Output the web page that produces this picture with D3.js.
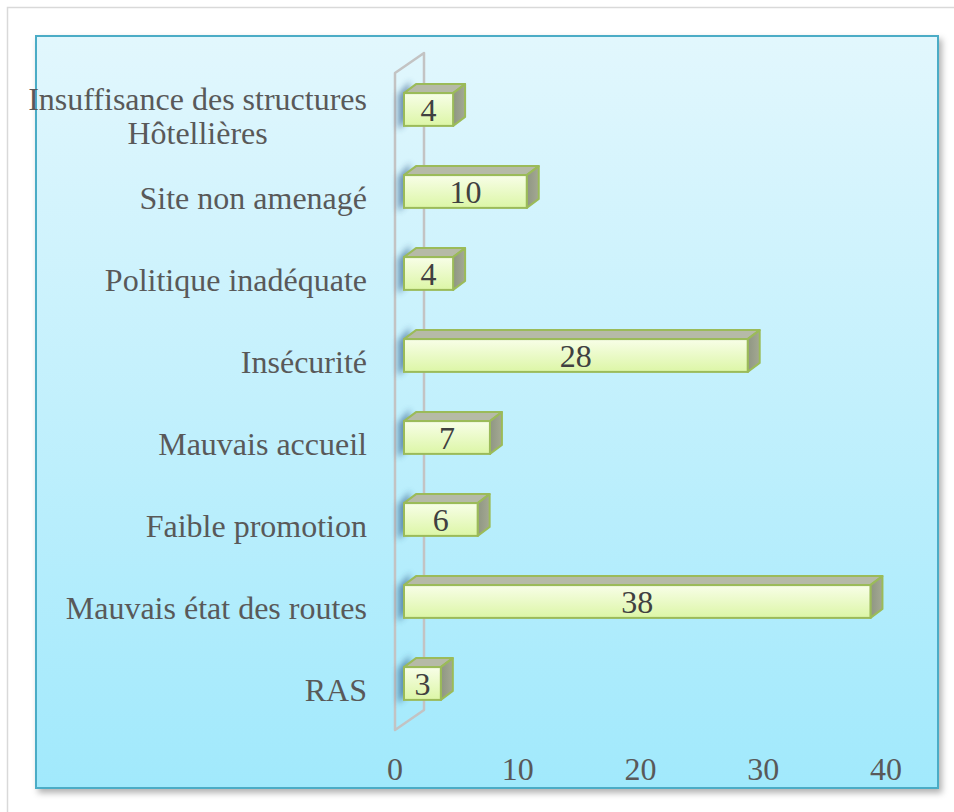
<!DOCTYPE html>
<html>
<head>
<meta charset="utf-8">
<script src="https://cdn.jsdelivr.net/npm/d3@7"></script>
<style>
  body { margin: 0; background: #fff; }
  svg { display: block; }
</style>
</head>
<body>
<div class="container"></div>
<script>
let categories = ['Insuffisance des structures|Hôtellières', 'Site non amenagé', 'Politique inadéquate',
    'Insécurité', 'Mauvais accueil', 'Faible promotion', 'Mauvais état des routes', 'RAS']
let values = [4, 10, 4, 28, 7, 6, 38, 3]
let ticks = [0, 10, 20, 30, 40]

let width = 954
let height = 812
let font = '"Liberation Serif", "Times New Roman", serif'
let fontSize = '32px'

// 3d offsets: wall depth and bar position inside the depth
let wall = { dx: 29, dy: -20 }
let barOff = { dx: 9, dy: -6.5 }
let barDepth = { dx: 12, dy: -9 }

let svg = d3.select('.container')
    .append('svg')
    .attr('width', width)
    .attr('height', height)

let defs = svg.append('defs')

let bg = defs.append('linearGradient').attr('id', 'bg')
    .attr('x1', 0).attr('y1', 0).attr('x2', 0).attr('y2', 1)
bg.append('stop').attr('offset', '0%').attr('stop-color', '#e2f7fd')
bg.append('stop').attr('offset', '100%').attr('stop-color', '#a1e9fc')

let face = defs.append('linearGradient').attr('id', 'face')
    .attr('x1', 0).attr('y1', 0).attr('x2', 0).attr('y2', 1)
face.append('stop').attr('offset', '0%').attr('stop-color', '#f8fee8')
face.append('stop').attr('offset', '100%').attr('stop-color', '#dcf6a6')

let side = defs.append('linearGradient').attr('id', 'side')
    .attr('x1', 0).attr('y1', 0).attr('x2', 1).attr('y2', 0)
side.append('stop').attr('offset', '0%').attr('stop-color', '#8f9683')
side.append('stop').attr('offset', '100%').attr('stop-color', '#a4a993')

let shadow = defs.append('filter').attr('id', 'boxShadow')
    .attr('x', '-5%').attr('y', '-5%').attr('width', '110%').attr('height', '110%')
shadow.append('feDropShadow').attr('dx', 3).attr('dy', 4).attr('stdDeviation', 3)
    .attr('flood-color', '#000').attr('flood-opacity', 0.3)

let blur = defs.append('filter').attr('id', 'blur')
    .attr('x', '-100%').attr('y', '-50%').attr('width', '300%').attr('height', '200%')
blur.append('feGaussianBlur').attr('stdDeviation', 3)

// outer frame
svg.append('rect')
    .attr('x', 7.5).attr('y', 7.5)
    .attr('width', 960).attr('height', 820)
    .attr('fill', '#fff')
    .attr('stroke', '#d9d9d9')
    .attr('stroke-width', 1.5)

// plot box
svg.append('rect')
    .attr('x', 36).attr('y', 36)
    .attr('width', 902).attr('height', 752)
    .attr('fill', 'url(#bg)')
    .attr('stroke', '#4bacc6')
    .attr('stroke-width', 2)
    .attr('filter', 'url(#boxShadow)')

let xScale = d3.scaleLinear()
    .domain([0, 40])
    .range([395, 886])

let yScale = d3.scaleBand()
    .domain(categories)
    .range([75, 731])
    .padding(0)

let barH = yScale.step() * 0.4
let x0 = xScale(0)
let yTop = yScale.range()[0] - 2
let yBot = yScale.range()[1] - 1

// side wall at x = 0
let wallG = svg.append('g')
    .attr('fill', 'none')
    .attr('stroke', '#c3c3c3')
    .attr('stroke-width', 2.5)
    .attr('stroke-linejoin', 'round')
wallG.append('path')
    .attr('d', `M${x0},${yBot} L${x0},${yTop} L${x0 + wall.dx},${yTop + wall.dy} L${x0 + wall.dx},${yBot + wall.dy} Z`)

// shadows of bars on the wall
svg.append('g')
    .selectAll('path')
    .data(categories)
    .enter()
    .append('path')
    .attr('d', d => {
        let x = x0 + barOff.dx
        let y = yScale(d) + yScale.step() / 2 + barOff.dy - barH / 2
        return `M${x - 6},${y + barH + 4} L${x - 6},${y + 2} L${x + 6},${y - 12} L${x + 6},${y + barH - 8} Z`
    })
    .attr('fill', '#2a5784')
    .attr('opacity', 0.6)
    .attr('filter', 'url(#blur)')

let bars = svg.append('g')
    .selectAll('g')
    .data(categories.map((c, i) => ({ cat: c, val: values[i] })))
    .enter()
    .append('g')

let fx = () => xScale(0) + barOff.dx
let fy = d => yScale(d.cat) + yScale.step() / 2 + barOff.dy - barH / 2
let fw = d => xScale(d.val) - xScale(0)

// top face
bars.append('path')
    .attr('d', d => {
        let x = fx(), y = fy(d), w = fw(d)
        return `M${x},${y} L${x + barDepth.dx},${y + barDepth.dy} L${x + w + barDepth.dx},${y + barDepth.dy} L${x + w},${y} Z`
    })
    .attr('fill', '#b6baa7')
    .attr('stroke', '#9bbb59')
    .attr('stroke-width', 2)
    .attr('stroke-linejoin', 'round')

// right face
bars.append('path')
    .attr('d', d => {
        let x = fx() + fw(d), y = fy(d)
        return `M${x},${y} L${x + barDepth.dx},${y + barDepth.dy} L${x + barDepth.dx},${y + barH + barDepth.dy} L${x},${y + barH} Z`
    })
    .attr('fill', 'url(#side)')
    .attr('stroke', '#9bbb59')
    .attr('stroke-width', 2)
    .attr('stroke-linejoin', 'round')

// front face
bars.append('rect')
    .attr('x', fx)
    .attr('y', fy)
    .attr('width', fw)
    .attr('height', barH)
    .attr('fill', 'url(#face)')
    .attr('stroke', '#9bbb59')
    .attr('stroke-width', 2)

// value labels
bars.append('text')
    .attr('x', d => fx() + fw(d) / 2)
    .attr('y', d => fy(d) + barH / 2)
    .attr('dy', '0.35em')
    .attr('text-anchor', 'middle')
    .style('font-family', font)
    .style('font-size', fontSize)
    .attr('fill', '#404040')
    .text(d => d.val)

// category labels
let catG = svg.append('g')
    .selectAll('text')
    .data(categories)
    .enter()
    .append('text')
    .style('font-family', font)
    .style('font-size', fontSize)
    .attr('fill', '#595959')
    .attr('y', d => yScale(d) + yScale.step() / 2)

catG.each(function (d) {
    let lines = d.split('|')
    let t = d3.select(this)
    if (lines.length === 1) {
        t.attr('x', 367).attr('text-anchor', 'end').attr('dy', '0.35em').text(d)
    } else {
        // first line right-aligned, following lines centred under it
        let first = t.append('tspan').attr('x', 367).attr('text-anchor', 'end').attr('dy', '-0.18em').text(lines[0])
        let w = first.node().getComputedTextLength()
        lines.slice(1).forEach(l => {
            t.append('tspan').attr('x', 367 - w / 2).attr('text-anchor', 'middle').attr('dy', '1.05em').text(l)
        })
    }
})

// x axis tick labels
svg.append('g')
    .selectAll('text')
    .data(ticks)
    .enter()
    .append('text')
    .attr('x', d => xScale(d))
    .attr('y', 769)
    .attr('dy', '0.35em')
    .attr('text-anchor', 'middle')
    .style('font-family', font)
    .style('font-size', fontSize)
    .attr('fill', '#595959')
    .text(d => d)
</script>
</body>
</html>
